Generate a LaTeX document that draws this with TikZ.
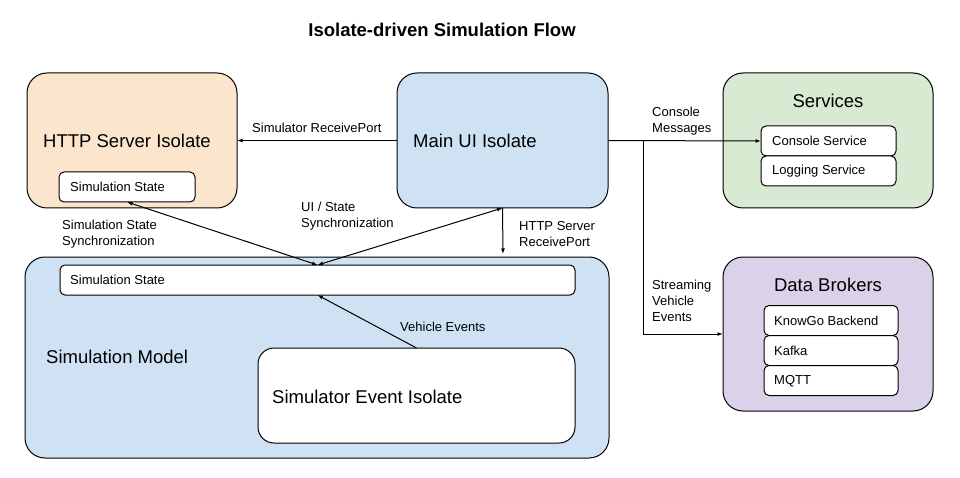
\documentclass[tikz,border=0pt]{standalone}
\usepackage{fontspec}
\setmainfont{Liberation Sans}
\usetikzlibrary{arrows.meta}
\definecolor{peach}{HTML}{FCE5CD}
\definecolor{lblue}{HTML}{CFE2F3}
\definecolor{lgreen}{HTML}{D9EAD3}
\definecolor{lpurple}{HTML}{D9D2E9}
\begin{document}
\begin{tikzpicture}[x=1pt,y=-1pt,
  bigbox/.style={draw=black, line width=1pt, rounded corners=20pt, inner sep=0pt, outer sep=0pt},
  smallbox/.style={draw=black, line width=1pt, fill=white, rounded corners=5pt, inner sep=0pt, outer sep=0pt},
  bigtxt/.style={anchor=west, inner sep=0pt, font=\fontsize{18.5}{22}\selectfont},
  smalltxt/.style={anchor=west, inner sep=0pt, font=\fontsize{13}{16}\selectfont, align=left},
  titletxt/.style={inner sep=0pt, font=\fontsize{18.5}{22}\selectfont\bfseries},
  conn/.style={line width=1pt, -{Latex[length=5.5pt,width=4pt]}},
  dconn/.style={line width=1pt, {Latex[length=5.5pt,width=4pt]}-{Latex[length=5.5pt,width=4pt]}}
]
\useasboundingbox (0,0) rectangle (960,478);

\node[titletxt] (title) at (442,30) {Isolate-driven Simulation Flow};

% HTTP Server Isolate
\node[bigbox, fill=peach, minimum width=210pt, minimum height=135pt] (http) at (132,140.5) {};
\node[bigtxt] (httptxt) at (43,141) {HTTP Server Isolate};
\node[smallbox, minimum width=136pt, minimum height=30pt] (httpstate) at (127,187) {};
\node[smalltxt] (httpstatetxt) at (70,187) {Simulation State};

% Main UI Isolate
\node[bigbox, fill=lblue, minimum width=211pt, minimum height=135pt] (mainui) at (502.5,140.5) {};
\node[bigtxt] (mainuitxt) at (413,141) {Main UI Isolate};

% Services
\node[bigbox, fill=lgreen, minimum width=210pt, minimum height=135pt] (services) at (828,140.5) {};
\node[titletxt, font=\fontsize{18.5}{22}\selectfont] (servicestxt) at (828,101) {Services};
\node[smallbox, minimum width=135pt, minimum height=30pt] (console) at (828.5,141) {};
\node[smalltxt] (consoletxt) at (772,141) {Console Service};
\node[smallbox, minimum width=135pt, minimum height=30pt] (logging) at (828.5,171) {};
\node[smalltxt] (loggingtxt) at (772,171) {Logging Service};

% Data Brokers
\node[bigbox, fill=lpurple, minimum width=210pt, minimum height=154pt] (brokers) at (828,334) {};
\node[titletxt, font=\fontsize{18.5}{22}\selectfont] (brokerstxt) at (828,285) {Data Brokers};
\node[smallbox, minimum width=134pt, minimum height=30pt] (knowgo) at (831,320.5) {};
\node[smalltxt] (knowgotxt) at (774,321) {KnowGo Backend};
\node[smallbox, minimum width=134pt, minimum height=30pt] (kafka) at (831,350.5) {};
\node[smalltxt] (kafkatxt) at (774,351) {Kafka};
\node[smallbox, minimum width=134pt, minimum height=30pt] (mqtt) at (831,380.5) {};
\node[smalltxt] (mqtttxt) at (774,381) {MQTT};

% Simulation Model
\node[bigbox, fill=lblue, minimum width=584pt, minimum height=201pt] (simmodel) at (317,357.5) {};
\node[bigtxt] (simmodeltxt) at (46,357) {Simulation Model};
\node[smallbox, minimum width=515pt, minimum height=30pt] (simstate) at (317.5,280) {};
\node[smalltxt] (simstatetxt) at (70,280) {Simulation State};
\node[smallbox, rounded corners=16pt, minimum width=317pt, minimum height=95pt] (event) at (416.5,395.5) {};
\node[bigtxt] (eventtxt) at (272,397) {Simulator Event Isolate};

% Connectors
\coordinate (branch) at (643,141);
\draw[conn] (mainui.west) -- (http.east);
\node[smalltxt] (lblsimrp) at (252,128) {Simulator ReceivePort};
\draw[conn] (mainui.east) -- (console.west);
\node[smalltxt] (lblconsole) at (652,121) {Console\\Messages};
\draw[conn] (branch) |- (brokers.west);
\node[smalltxt] (lblstream) at (652,301) {Streaming\\Vehicle\\Events};
\draw[dconn] (httpstate.south) -- (simstate.north);
\node[smalltxt] (lblsync) at (62,234) {Simulation State\\Synchronization};
\draw[dconn] (mainui.south) -- (simstate.north);
\node[smalltxt] (lbluisync) at (301,216) {UI / State\\Synchronization};
\coordinate (rpend) at (503,254);
\draw[conn] (mainui.south) -- (rpend);
\node[smalltxt] (lblhttprp) at (519,234) {HTTP Server\\ReceivePort};
\draw[conn] (event.north) -- (simstate.south);
\node[smalltxt] (lblveh) at (400,327) {Vehicle Events};
\end{tikzpicture}
\end{document}
